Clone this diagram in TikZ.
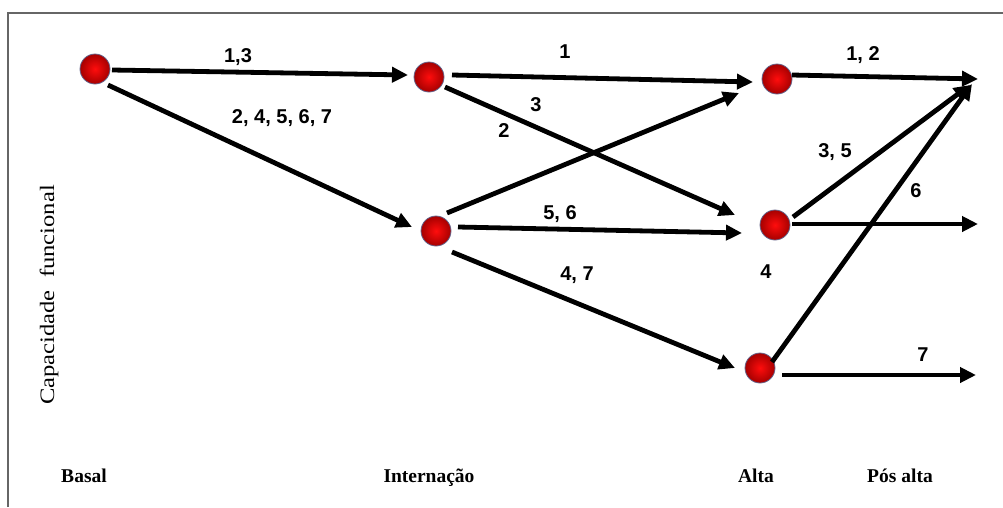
\documentclass[tikz,border=0pt]{standalone}
\usepackage{fontspec}
\setmainfont{Liberation Serif}
\newfontfamily\numfont{Liberation Sans}
\newfontfamily\axisfont[FakeStretch=1.2]{Liberation Serif}
\usetikzlibrary{arrows.meta}

\begin{document}
\begin{tikzpicture}[x=1pt, y=-1pt]
        \tikzstyle{state}=[circle, minimum size=30pt, inner sep=0pt, shading=radial, inner color=red!95!white, outer color=red!65!black, draw=blue!25!black!60, line width=0.8pt]
        \tikzstyle{flow}=[line width=4.8pt, -{Triangle[length=16pt,width=15pt]}]
        \tikzstyle{num}=[font=\numfont\bfseries\fontsize{20}{22}\selectfont]
        \tikzstyle{stage}=[font=\bfseries\fontsize{19.5}{22}\selectfont]
        \useasboundingbox (0,0) rectangle (1003,507);
        % Frame
        \draw[gray!80!black, line width=1.2pt] (8,507) -- (8,13) -- (1003,13);
        % States
        \node[state] (B0) at (95,69) {};
        \node[state] (I1) at (429,77) {};
        \node[state] (I2) at (436,231) {};
        \node[state] (A1) at (777,79) {};
        \node[state] (A2) at (775,225) {};
        \node[state] (A3) at (760,368) {};
        \coordinate (P1) at (978,79);
        \coordinate (P2) at (978,224);
        \coordinate (P3) at (976,375);
        % Basal -> Internacao
        \draw[flow] ([shift={(17,1)}]B0.center) -- ([shift={(-21,-2)}]I1.center);
        \draw[flow] ([shift={(13,16)}]B0.center) -- ([shift={(-24,-4)}]I2.center);
        % Internacao -> Alta
        \draw[flow] ([shift={(23,-2)}]I1.center) -- ([shift={(-24,3)}]A1.center);
        \draw[flow] ([shift={(16,10)}]I1.center) -- ([shift={(-40,-10)}]A2.center);
        \draw[flow] ([shift={(11,-18)}]I2.center) -- ([shift={(-38,14)}]A1.center);
        \draw[flow] ([shift={(22,-4)}]I2.center) -- ([shift={(-33,8)}]A2.center);
        \draw[flow] ([shift={(16,21)}]I2.center) -- ([shift={(-25,0)}]A3.center);
        % Alta -> Pos alta
        \draw[flow] ([shift={(15,-4)}]A1.center) -- (P1);
        \draw[flow] ([shift={(18,-8)}]A2.center) -- ([shift={(-8,6)}]P1);
        \draw[flow] ([shift={(12,-6)}]A3.center) -- ([shift={(-6,5)}]P1);
        \draw[flow] ([shift={(17,-1)}]A2.center) -- (P2);
        \draw[flow] ([shift={(22,7)}]A3.center) -- (P3);
        % Labels
        \node[num] (l13) at (238,57) {1,3};
        \node[num] (l24567) at (282,118) {2, 4, 5, 6, 7};
        \node[num] (l1) at (565,52) {1};
        \node[num] (l3) at (536,105) {3};
        \node[num] (l2) at (504,131) {2};
        \node[num] (l56) at (560,214) {5, 6};
        \node[num] (l47) at (577,275) {4, 7};
        \node[num] (l12) at (863,55) {1, 2};
        \node[num] (l35) at (835,152) {3, 5};
        \node[num] (l6) at (916,191) {6};
        \node[num] (l4) at (766,272) {4};
        \node[num] (l7) at (923,355) {7};
        % Stages
        \node[stage, anchor=base] (basal) at (84,482) {Basal};
        \node[stage, anchor=base] (intern) at (429,482) {Internação};
        \node[stage, anchor=base] (alta) at (756,482) {Alta};
        \node[stage, anchor=base] (posalta) at (900,482) {Pós alta};
        \node[font=\axisfont\fontsize{20.5}{22}\selectfont, rotate=90] (cap) at (49,295) {Capacidade\ \ funcional};
    \end{tikzpicture}
\end{document}
